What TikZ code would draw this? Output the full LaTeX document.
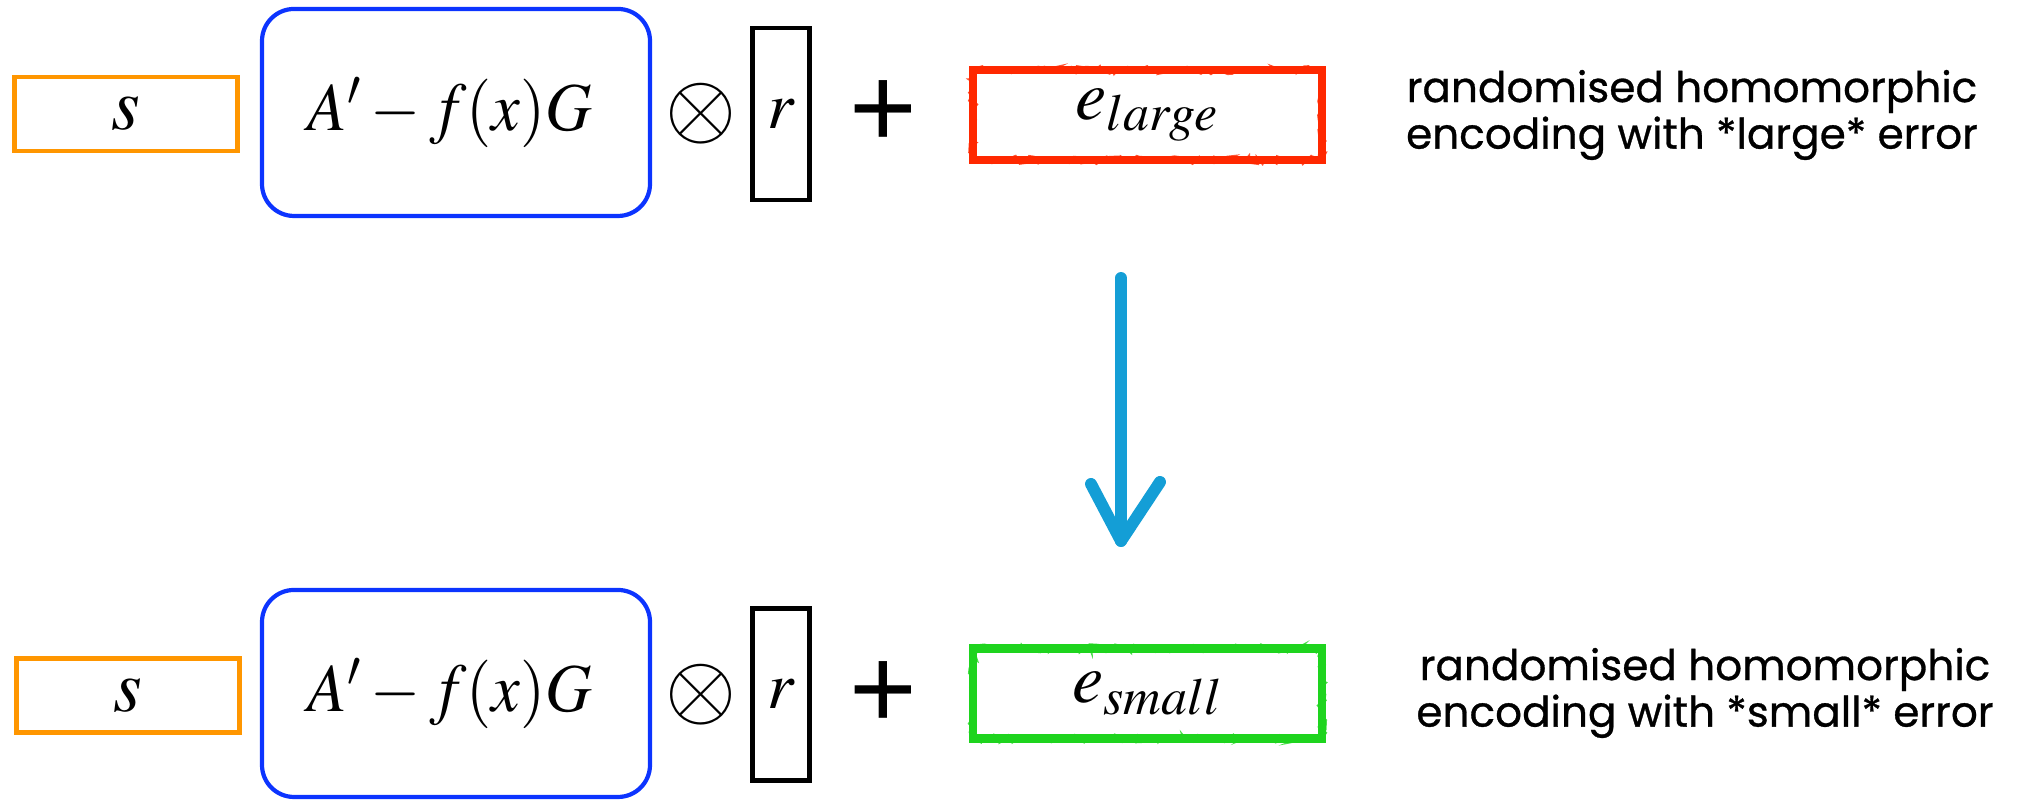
\documentclass[tikz,border=0pt]{standalone}
\usepackage{mathptmx}
\usepackage{graphicx}
\usepackage{fontspec}
\newfontfamily\notefont[FakeBold=0.7]{Poppins}
\newfontfamily\opfont{Liberation Sans}
\usetikzlibrary{decorations.pathmorphing}

\definecolor{boxorange}{RGB}{255,150,0}
\definecolor{boxblue}{RGB}{12,52,255}
\definecolor{errred}{RGB}{255,40,0}
\definecolor{errgreen}{RGB}{30,212,30}
\definecolor{chalkblue}{RGB}{20,158,214}

\newcommand{\narrow}[1]{\scalebox{0.94}[1]{#1}}

\tikzset{
  secret/.style={draw=boxorange, line width=1.4pt, minimum width=2.23cm, minimum height=0.74cm, font=\fontsize{21}{22}\selectfont},
  keybox/.style={draw=boxblue, line width=1.2pt, rounded corners=0.32cm, minimum width=3.88cm, minimum height=2.07cm, font=\fontsize{19.5}{22}\selectfont},
  randbox/.style={draw, line width=1.4pt, minimum width=0.57cm, minimum height=1.72cm, inner sep=0pt, font=\fontsize{19}{20}\selectfont},
  otimes/.style={inner sep=0pt, font=\fontsize{26}{26}\selectfont},
  plus/.style={inner sep=0pt, font=\opfont\fontsize{33}{33}\selectfont},
  errbox/.style={draw, line width=2.4pt, minimum width=3.49cm, minimum height=0.9cm, font=\fontsize{20}{22}\selectfont,
    postaction={draw, line width=0.7pt, opacity=0.8, decorate, decoration={random steps, segment length=1.2pt, amplitude=1.1pt}}},
  note/.style={align=center, font=\notefont\fontsize{12}{11.5}\selectfont},
  chalk/.style={chalkblue, line width=3.4pt, line cap=round, line join=round,
    postaction={draw, line width=1pt, opacity=0.8, decorate, decoration={random steps, segment length=1pt, amplitude=1.2pt}}},
}

\begin{document}
\begin{tikzpicture}
	\useasboundingbox (0,0) rectangle (20.25,8.01);

	% large error row
	\node[secret] (s1) at (1.26,6.87) {$s$};
	\node[keybox] (k1) at (4.56,6.885) {\narrow{$A'-f(x)G$}\hspace*{0.12cm}};
	\node[otimes] (t1) at (7.01,6.87) {$\otimes$};
	\node[randbox] (r1) at (7.81,6.87) {$r$};
	\node[plus] (p1) at (8.83,6.87) {+};
	\node[errbox, draw=errred] (e1) at (11.475,6.86) {$e_{large}$};
	\node[note] (n1) at (16.92,6.86) {randomised homomorphic\\encoding with *large* error};

	% small error row
	\node[secret] (s2) at (1.28,1.055) {$s$};
	\node[keybox] (k2) at (4.56,1.075) {\narrow{$A'-f(x)G$}\hspace*{0.12cm}};
	\node[otimes] (t2) at (7.01,1.06) {$\otimes$};
	\node[randbox] (r2) at (7.81,1.065) {$r$};
	\node[plus] (p2) at (8.83,1.06) {+};
	\node[errbox, draw=errgreen] (e2) at (11.475,1.075) {$e_{small}$};
	\node[note] (n2) at (17.05,1.08) {randomised homomorphic\\encoding with *small* error};

	% chalk arrow between the rows
	\coordinate (down top) at (11.21,5.23);
	\coordinate (down tip) at (11.21,2.60);
	\coordinate (wing l) at (10.91,3.17);
	\coordinate (wing r) at (11.60,3.19);
	\draw[chalk] (down top) -- (down tip);
	\draw[chalk] (wing l) -- (down tip) -- (wing r);
\end{tikzpicture}
\end{document}
